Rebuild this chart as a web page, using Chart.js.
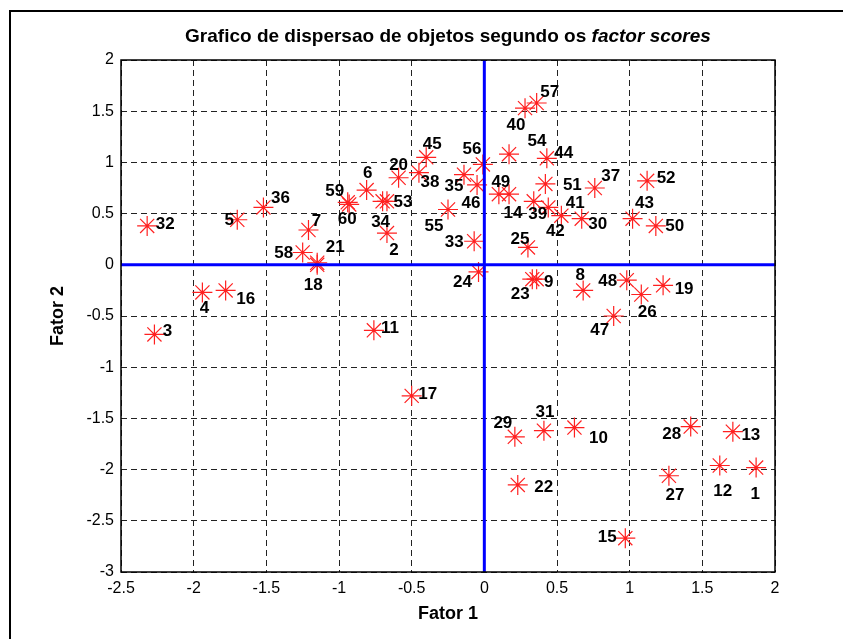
<!DOCTYPE html>
<html>
<head>
<meta charset="utf-8">
<script src="https://cdn.jsdelivr.net/npm/chart.js@4/dist/chart.umd.min.js"></script>
<style>
  html, body { margin:0; padding:0; background:#fff; overflow:hidden; }
  #wrap { position:relative; width:843px; height:639px; overflow:hidden; }
  #frame { position:absolute; left:9px; top:10px; width:900px; height:700px; border:2px solid #000; box-sizing:border-box; }
  #title { position:absolute; left:0; width:896px; top:25px; text-align:center; line-height:24px;
           font:bold 19px "Liberation Sans", Arial, sans-serif; color:#000; white-space:nowrap; }
  canvas { position:absolute; left:0; top:0; }
</style>
</head>
<body>
<div id="wrap">
  <div id="frame"></div>
  <canvas id="c" width="843" height="639"></canvas>
  <div id="title">Grafico de dispersao de objetos segundo os <i>factor scores</i></div>
</div>
<script>
// ---- data ----
const objectIds = [1,2,3,4,5,6,7,8,9,10,11,12,13,14,15,16,17,18,19,20,
                   21,22,23,24,25,26,27,28,29,30,31,32,33,34,35,36,37,38,39,40,
                   41,42,43,44,45,46,47,48,49,50,51,52,53,54,55,56,57,58,59,60];
const factor1 = [ 1.87,-0.67,-2.27,-1.94,-1.70,-0.81,-1.21, 0.68, 0.36, 0.62,
                 -0.76, 1.62, 1.71, 0.17, 0.97,-1.78,-0.50,-1.15, 1.23,-0.59,
                 -1.15, 0.23, 0.33,-0.04, 0.30, 1.08, 1.27, 1.42, 0.21, 0.67,
                  0.41,-2.32,-0.07,-0.70,-0.14,-1.52, 0.76,-0.45, 0.34, 0.28,
                  0.44, 0.53, 1.02, 0.43,-0.40,-0.05, 0.89, 0.98, 0.10, 1.18,
                  0.42, 1.12,-0.67, 0.17,-0.25,-0.01, 0.36,-1.25,-0.94,-0.93];
const factor2 = [-1.98, 0.31,-0.68,-0.27, 0.44, 0.73, 0.34,-0.25,-0.14,-1.59,
                 -0.64,-1.96,-1.63, 0.69,-2.67,-0.25,-1.28, 0.00,-0.20, 0.85,
                  0.02,-2.15,-0.14,-0.07, 0.17,-0.29,-2.06,-1.58,-1.68, 0.45,
                 -1.62, 0.38, 0.23, 0.62, 0.88, 0.56, 0.75, 0.90, 0.62, 1.53,
                  0.56, 0.48, 0.45, 1.04, 1.05, 0.78,-0.50,-0.15, 0.69, 0.38,
                  0.79, 0.82, 0.62, 1.08, 0.54, 0.98, 1.58, 0.12, 0.61, 0.59];
const xTickLabels = ['-2.5','-2','-1.5','-1','-0.5','0','0.5','1','1.5','2'];
const yTickLabels = ['-3','-2.5','-2','-1.5','-1','-0.5','0','0.5','1','1.5','2'];
const xRange = [-2.5, 2];
const yRange = [-3, 2];

// ---- label placement (style: pixel offsets of each number from its marker) ----
const labelOffsets = [
  [-1,27],[7,17],[13,-3],[2,16],[-8,1],[1,-17],[8,-9],[-3,-15],[12,3],[24,11],
  [16,-2],[3,26],[18,4],[4,19],[-18,-1],[20,9],[16,-2],[-4,21],[21,4],[0,-12],
  [18,-15],[26,2],[-12,15],[-16,10],[-8,-8],[6,18],[6,20],[-19,8],[-12,-14],[16,6],
  [1,-18],[18,-2],[-20,1],[-2,21],[-10,12],[17,-9],[16,-12],[11,10],[4,13],[-9,17],
  [27,-4],[-6,16],[12,-15],[17,-5],[6,-13],[-6,18],[-14,14],[-19,1],[2,-12],[19,0],
  [27,1],[19,-3],[16,1],[28,-13],[-14,17],[-11,-15],[13,-11],[-19,1],[-13,-11],[-2,15]
];

const points = objectIds.map((id, i) => ({ x: factor1[i], y: factor2[i] }));

const FONT = '"Liberation Sans", Arial, Helvetica, sans-serif';

const labelPlugin = {
  id: 'pointLabels',
  afterDatasetsDraw(chart) {
    const meta = chart.getDatasetMeta(0);
    const ctx = chart.ctx;
    ctx.save();
    ctx.font = 'bold 17px ' + FONT;
    ctx.fillStyle = '#000';
    ctx.textAlign = 'center';
    ctx.textBaseline = 'middle';
    meta.data.forEach((el, i) => {
      const o = labelOffsets[i];
      ctx.fillText(String(objectIds[i]), el.x + o[0], el.y + o[1]);
    });
    ctx.restore();
  }
};

const boxPlugin = {
  id: 'axesBox',
  afterDraw(chart) {
    const a = chart.chartArea, ctx = chart.ctx;
    ctx.save();
    ctx.strokeStyle = '#000';
    ctx.lineWidth = 1.5;
    ctx.strokeRect(a.left, a.top, a.right - a.left, a.bottom - a.top);
    ctx.restore();
  }
};

new Chart(document.getElementById('c'), {
  type: 'scatter',
  data: {
    datasets: [
      {
        data: points,
        pointStyle: 'star',
        radius: 10,
        borderColor: '#ff2020',
        backgroundColor: '#ff2020',
        borderWidth: 1.2,
        order: 2
      },
      {
        type: 'line',
        data: [{x: 0, y: yRange[0]}, {x: 0, y: yRange[1]}],
        borderColor: '#0000ff',
        borderWidth: 3,
        pointRadius: 0,
        showLine: true,
        order: 1
      },
      {
        type: 'line',
        data: [{x: xRange[0], y: 0}, {x: xRange[1], y: 0}],
        borderColor: '#0000ff',
        borderWidth: 3,
        pointRadius: 0,
        showLine: true,
        order: 1
      }
    ]
  },
  options: {
    responsive: false,
    animation: false,
    events: [],
    layout: { padding: { top: 60, right: 68, left: 0, bottom: 0 } },
    plugins: { legend: { display: false }, tooltip: { enabled: false }, title: { display: false } },
    scales: {
      x: {
        type: 'linear', min: xRange[0], max: xRange[1],
        afterBuildTicks(s) { s.ticks = xTickLabels.map(v => ({ value: parseFloat(v) })); },
        afterFit(s) { s.height = 67; },
        ticks: {
          padding: 7, color: '#000', font: { family: FONT, size: 16 },
          callback: (v, i) => xTickLabels[i]
        },
        grid: { color: '#222', lineWidth: 1, drawTicks: false },
        border: { display: false, dash: [6, 4] },
        title: { display: true, text: 'Fator 1', color: '#000',
                 font: { family: FONT, size: 18, weight: 'bold' }, padding: { top: 0, bottom: 14 } }
      },
      y: {
        type: 'linear', min: yRange[0], max: yRange[1],
        afterBuildTicks(s) { s.ticks = yTickLabels.map(v => ({ value: parseFloat(v) })); },
        afterFit(s) { s.width = 121; },
        ticks: {
          padding: 7, color: '#000', font: { family: FONT, size: 16 },
          callback: (v, i) => yTickLabels[i]
        },
        grid: { color: '#222', lineWidth: 1, drawTicks: false },
        border: { display: false, dash: [6, 4] },
        title: { display: true, text: 'Fator 2', color: '#000',
                 font: { family: FONT, size: 18, weight: 'bold' }, padding: { top: 47, bottom: 0 } }
      }
    }
  },
  plugins: [labelPlugin, boxPlugin]
});
</script>
</body>
</html>
